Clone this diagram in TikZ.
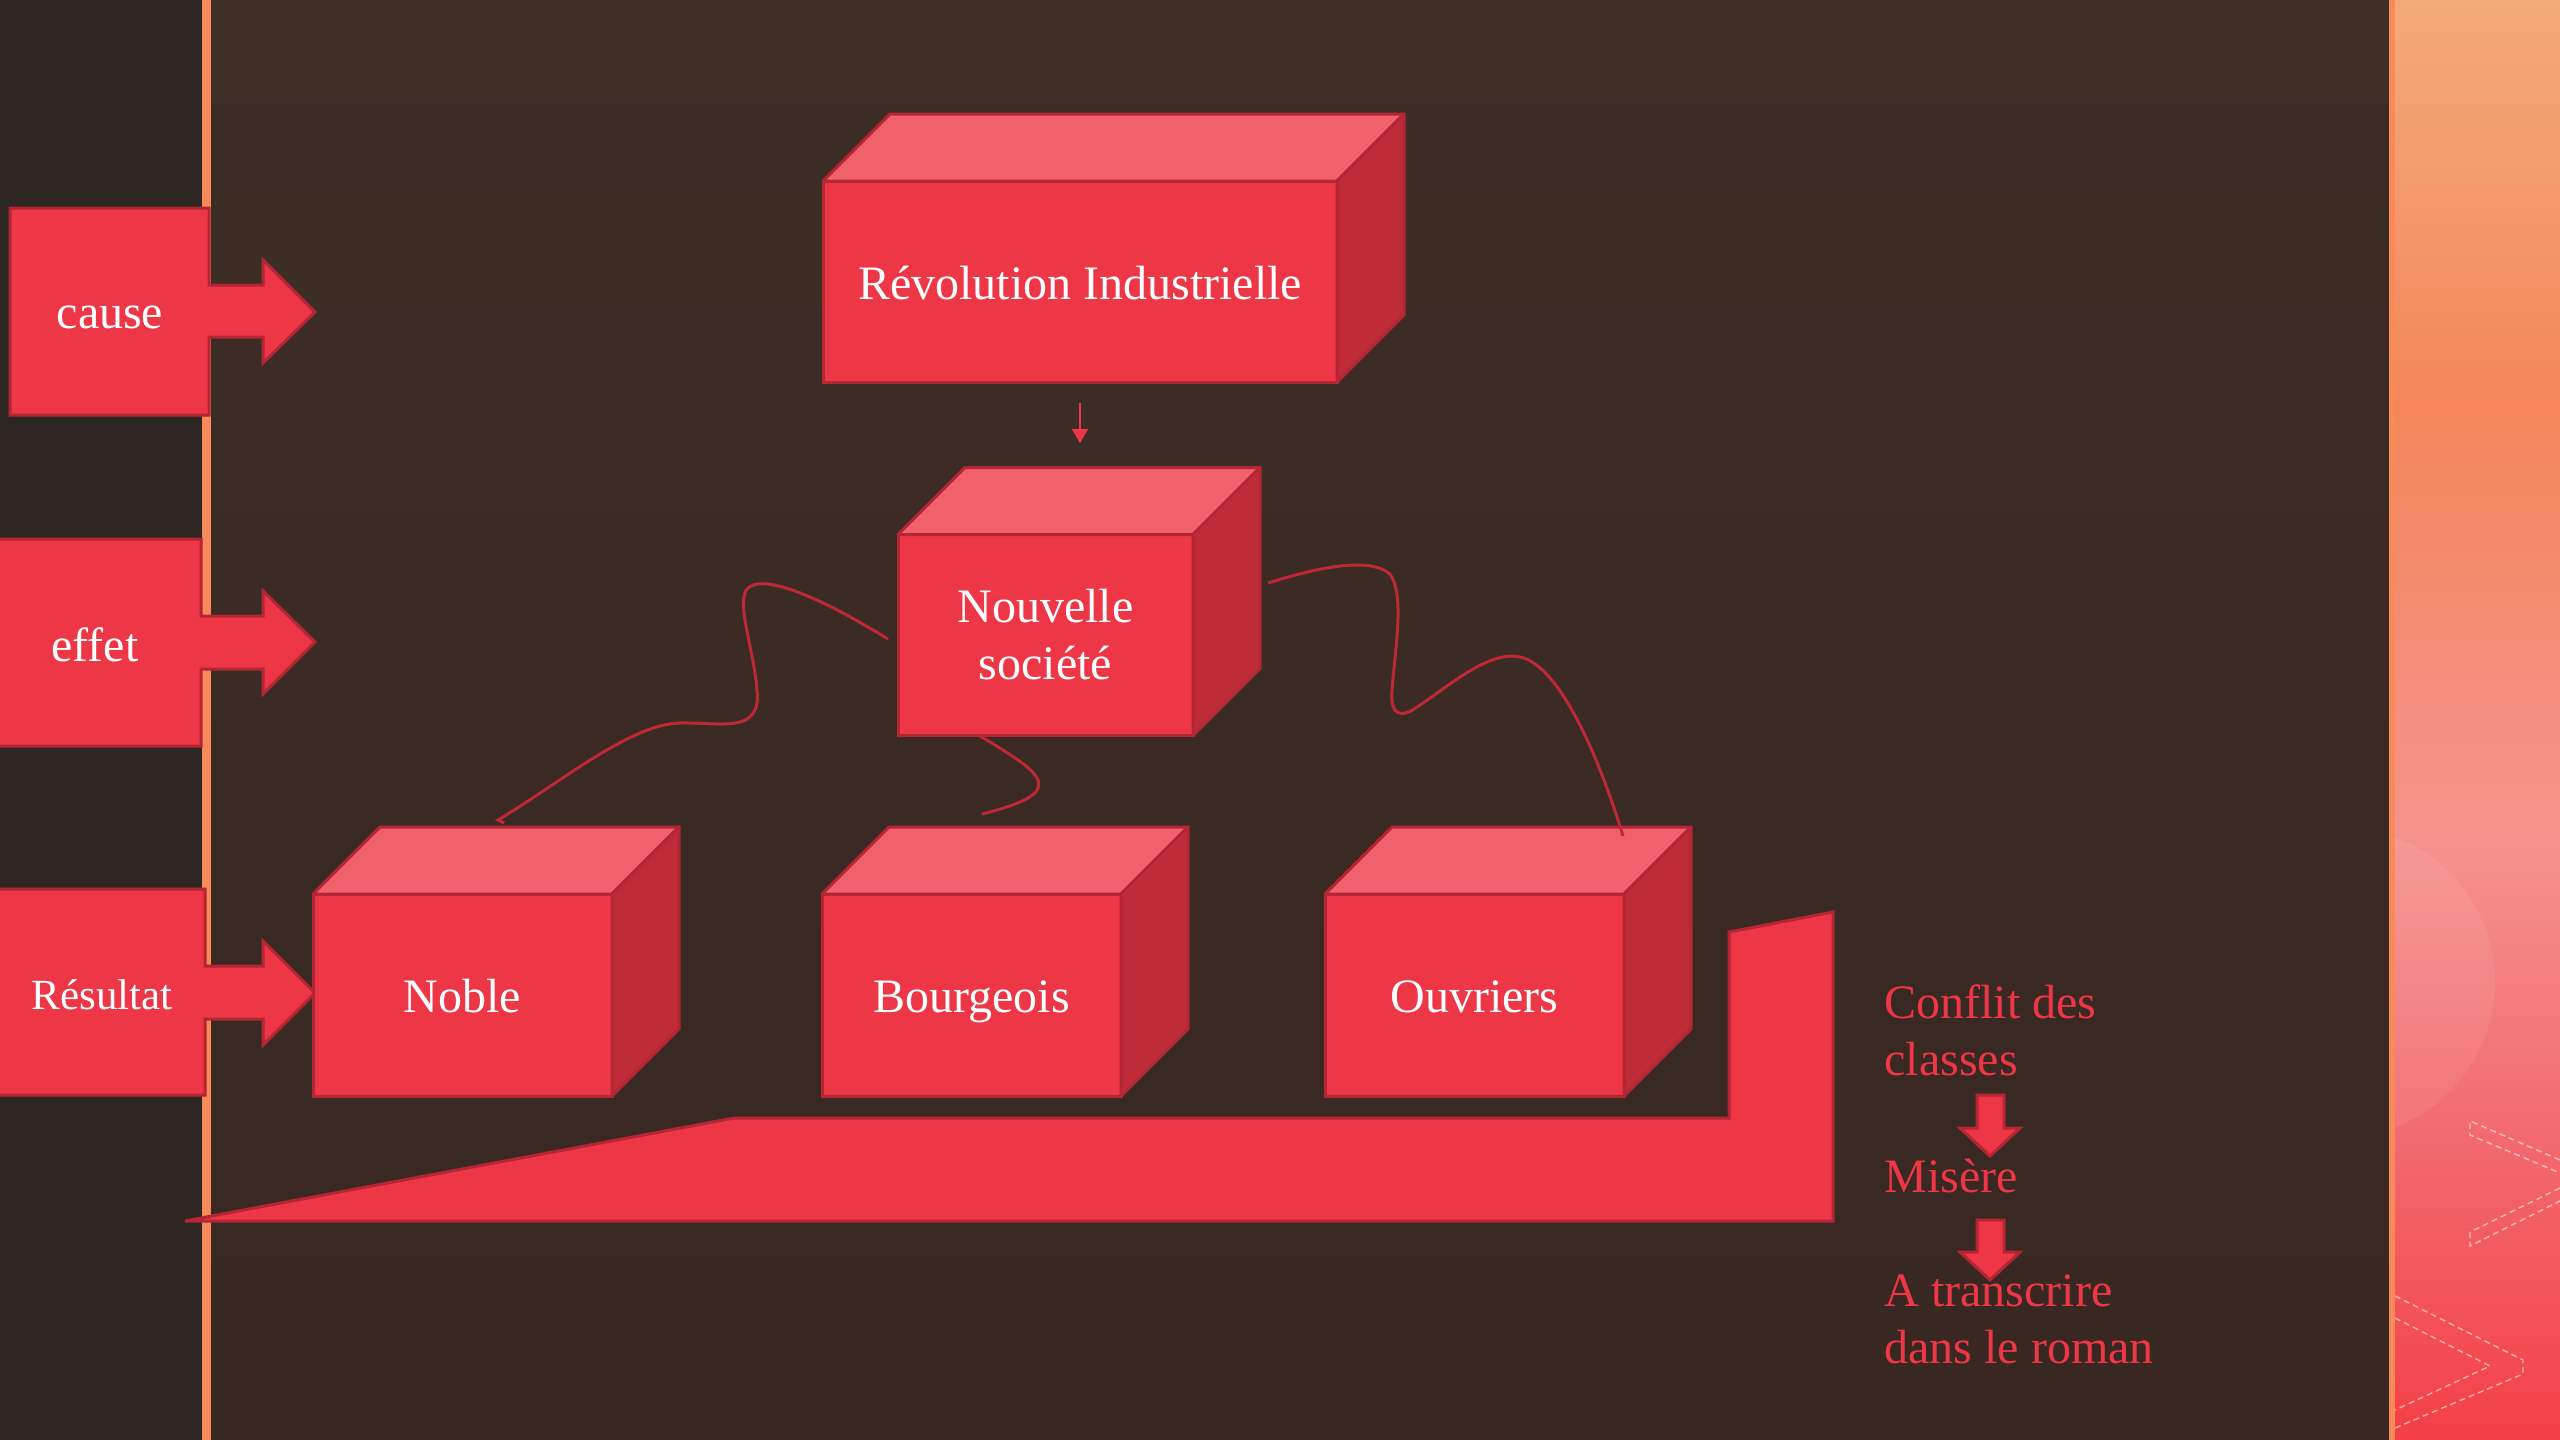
\documentclass[tikz,border=0pt]{standalone}
\usepackage{fontspec}
\setmainfont{Liberation Serif}
\usetikzlibrary{arrows.meta}
\definecolor{bgtop}{HTML}{3D2E26}
\definecolor{bgbot}{HTML}{392722}
\definecolor{bgleft}{HTML}{2E2622}
\definecolor{orangeline}{HTML}{F88958}
\definecolor{boxfront}{HTML}{ED3746}
\definecolor{boxtop}{HTML}{F1616C}
\definecolor{boxside}{HTML}{BF2C38}
\definecolor{boxedge}{HTML}{B42634}
\definecolor{wave}{HTML}{BE2837}
\definecolor{rpa}{HTML}{F34045}
\definecolor{rpb}{HTML}{F2686E}
\definecolor{rpc}{HTML}{F4938C}
\definecolor{rpd}{HTML}{F3875A}
\definecolor{rpe}{HTML}{F3AA78}
\pgfdeclareverticalshading{rpanel}{100bp}{color(0bp)=(rpa); color(25bp)=(rpa); color(35bp)=(rpb); color(46bp)=(rpc); color(61bp)=(rpd); color(75bp)=(rpe); color(100bp)=(rpe)}
\newcommand\cubebox[7][]{%
  \node[cubefront, #1, minimum width=#5, minimum height=#6] (#2) at (#3,#4) {#7};
  \filldraw[facetop] (#2.north west) -- ++(67,-67) -- ([shift={(67,-67)}]#2.north east) -- (#2.north east) -- cycle;
  \filldraw[faceside] (#2.north east) -- ++(67,-67) -- ([shift={(67,-67)}]#2.south east) -- (#2.south east) -- cycle;
}
\begin{document}
\begin{tikzpicture}[x=0.5pt,y=-0.5pt,
  facefront/.style={fill=boxfront, draw=boxedge, line width=1.5pt, line join=miter},
  cubefront/.style={facefront, rectangle, inner sep=0pt, outer sep=0pt, text=white, font=\fontsize{24}{28.5}\selectfont, align=center},
  oneline/.style={text height=23.5pt, text depth=6pt},
  facetop/.style={fill=boxtop, draw=boxedge, line width=1.5pt, line join=round},
  faceside/.style={fill=boxside, draw=boxedge, line width=1.5pt, line join=round},
  labeltext/.style={text=white, font=\fontsize{24}{28.5}\selectfont, inner sep=0pt},
  redtext/.style={text=boxfront, font=\fontsize{24}{28.5}\selectfont, inner sep=0pt, anchor=base west},
  wavy/.style={draw=wave, line width=1.5pt},
  deco/.style={draw=white, opacity=0.55, line width=0.7pt, dash pattern=on 3pt off 2pt},
]
\useasboundingbox (0,0) rectangle (2560,1440);
% background
\shade[top color=bgtop, bottom color=bgbot] (0,0) rectangle (2560,1440);
\fill[bgleft] (0,0) rectangle (202,1440);
\fill[orangeline] (202,0) rectangle (211,1440);
\shade[shading=rpanel] (2395,0) rectangle (2560,1440);
\fill[orangeline] (2389,0) rectangle (2395,1440);
\begin{scope}
  \clip (2395,0) rectangle (2560,1440);
  \fill[white, opacity=0.07] (2340,982) circle[radius=77.5pt];
  \draw[deco] (2560,1160) -- (2470,1121) -- (2470,1135) -- (2560,1173);
  \draw[deco] (2560,1188) -- (2470,1232) -- (2470,1246) -- (2560,1201);
  \draw[deco] (2395,1296) -- (2523,1360) -- (2523,1374) -- (2395,1428);
  \draw[deco] (2395,1318) -- (2490,1366) -- (2395,1410);
\end{scope}

% label callouts
\filldraw[facefront] (10,208) -- (209,208) -- (209,285) -- (263,285) -- (263,260) -- (315,312) -- (263,363) -- (263,337) -- (209,337) -- (209,415) -- (10,415) -- cycle;
\node[labeltext, anchor=base] (cause) at (110,328) {cause};
\filldraw[facefront] (-5,539) -- (201,539) -- (201,616) -- (263,616) -- (263,591) -- (315,642) -- (263,694) -- (263,669) -- (201,669) -- (201,746) -- (-5,746) -- cycle;
\node[labeltext, anchor=base] (effet) at (95,661) {effet};
\filldraw[facefront] (-5,889) -- (205,889) -- (205,966) -- (263,966) -- (263,941) -- (315,993) -- (263,1045) -- (263,1019) -- (205,1019) -- (205,1095) -- (-5,1095) -- cycle;
\node[labeltext, anchor=base, font=\fontsize{21.5}{26}\selectfont] (resultat) at (102,1009) {Résultat};

% bent band
\filldraw[facefront] (185,1221) -- (734,1118) -- (1729,1118) -- (1729,932) -- (1833,912) -- (1833,1221) -- cycle;

% cubes
\cubebox[oneline]{rev}{1080}{281.5}{257pt}{100.5pt}{Révolution Industrielle}
\cubebox{soc}{1045.5}{635}{147.5pt}{100.5pt}{Nouvelle\\société}
\cubebox[oneline]{noble}{462.5}{995}{149.5pt}{101pt}{Noble}
\cubebox[oneline]{bourg}{971.5}{995}{149.5pt}{101pt}{Bourgeois}
\cubebox[oneline]{ouv}{1474.5}{995}{149.5pt}{101pt}{Ouvriers}

% small arrow
\coordinate (a1) at (1080,403);
\coordinate (a2) at (1080,443);
\draw[draw=boxfront, line width=1pt, -{Triangle[length=7pt,width=8pt]}] (a1) -- (a2);

% wavy connectors
\draw[wavy] (504,823) -- (498,820) .. controls (560,783) and (630,724) .. (680,723) .. controls (720,722) and (762,735) .. (757,690) .. controls (754,650) and (735,600) .. (748,588) .. controls (760,577) and (800,585) .. (888,639);
\draw[wavy] (980,736) .. controls (1045,775) and (1070,792) .. (982,814);
\draw[wavy] (1268,583) .. controls (1310,570) and (1368,555) .. (1390,574) .. controls (1405,595) and (1395,650) .. (1392,690) .. controls (1390,715) and (1400,720) .. (1420,705) .. controls (1450,685) and (1490,650) .. (1520,657) .. controls (1560,665) and (1600,760) .. (1623,836);

% right texts
\node[redtext] (c1) at (1884,1018) {Conflit des};
\node[redtext] (c2) at (1884,1075) {classes};
\node[redtext] (m1) at (1884,1192) {Misère};
\node[redtext] (t1) at (1884,1306) {A transcrire};
\node[redtext] (t2) at (1884,1363) {dans le roman};
\filldraw[facefront] (1977,1095) -- (2004,1095) -- (2004,1128) -- (2020,1128) -- (1990,1156) -- (1960,1128) -- (1977,1128) -- cycle;
\filldraw[facefront] (1977,1220) -- (2004,1220) -- (2004,1252) -- (2020,1252) -- (1990,1280) -- (1960,1252) -- (1977,1252) -- cycle;
\end{tikzpicture}
\end{document}
